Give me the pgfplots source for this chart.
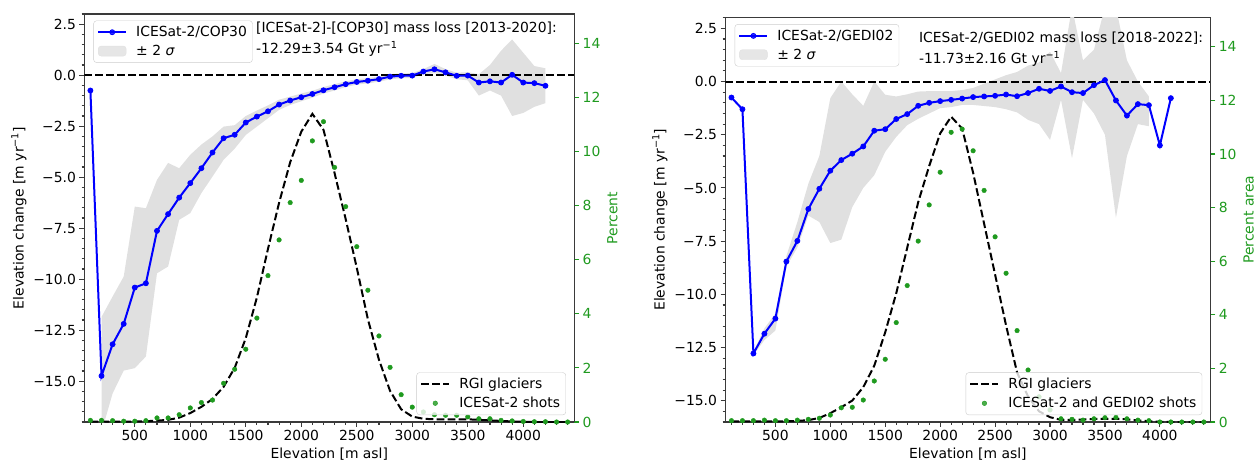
\documentclass[border=0pt]{standalone}
\usepackage{fontspec}
\setmainfont{DejaVu Sans}
\usepackage{pgfplots}
\usepackage{pgfplotstable}
\pgfplotsset{compat=1.18}
\usepgfplotslibrary{fillbetween}
\definecolor{mblue}{HTML}{0000FF}
\definecolor{mgreen}{HTML}{1F9A1F}
\definecolor{bandgray}{HTML}{E0E0E0}
\definecolor{spine}{HTML}{3A3A3A}
\newcommand{\mpl}{\fontsize{13.9}{16.7}\selectfont}

% elevation change, left panel (ICESat-2/COP30)
\pgfplotstableread{
x dh
100 -0.75
200 -14.74
300 -13.19
400 -12.19
500 -10.41
600 -10.20
700 -7.63
800 -6.81
900 -6.00
1000 -5.29
1100 -4.56
1200 -3.79
1300 -3.09
1400 -2.92
1500 -2.32
1600 -2.03
1700 -1.77
1800 -1.44
1900 -1.24
2000 -1.08
2100 -0.92
2200 -0.74
2300 -0.59
2400 -0.44
2500 -0.33
2600 -0.27
2700 -0.19
2800 -0.07
2900 -0.03
3000 -0.02
3100 0.18
3200 0.29
3300 0.14
3400 -0.03
3500 -0.02
3600 -0.36
3700 -0.30
3800 -0.36
3900 0.02
4000 -0.36
4100 -0.39
4200 -0.52
}\dhL
\pgfplotstableread{
x lo hi
200 -17.5 -11.85
300 -15.6 -10.85
400 -14.48 -9.87
500 -14.36 -6.44
600 -13.79 -6.52
700 -9.71 -5.13
800 -9.38 -4.30
900 -7.09 -4.56
1000 -6.76 -3.90
1100 -5.78 -3.40
1200 -4.97 -3.00
1300 -4.15 -2.52
1400 -3.60 -2.45
1500 -2.93 -2.00
1600 -2.52 -1.73
1700 -2.11 -1.48
1800 -1.70 -1.20
1900 -1.46 -1.05
2000 -1.28 -0.90
2100 -1.10 -0.76
2200 -0.90 -0.58
2300 -0.75 -0.44
2400 -0.58 -0.30
2500 -0.46 -0.20
2600 -0.40 -0.14
2700 -0.32 -0.07
2800 -0.20 0.05
2900 -0.15 0.09
3000 -0.14 0.10
3100 0.05 0.30
3200 0.10 0.55
3300 -0.02 0.30
3400 -0.20 0.12
3500 -0.25 0.15
3600 -1.00 0.05
3700 -0.75 0.50
3800 -1.00 1.20
3900 -2.00 1.75
4000 -1.85 1.10
4100 -1.55 0.45
4200 -1.37 0.34
}\bandL
\pgfplotstableread{
x rgi shots
100 0.01 0.06
200 0.01 0.06
300 0.01 0.05
400 0.01 0.03
500 0.02 0.03
600 0.03 0.05
700 0.05 0.15
800 0.08 0.15
900 0.16 0.27
1000 0.33 0.52
1100 0.56 0.72
1200 0.85 0.81
1300 1.30 1.43
1400 2.00 1.95
1500 3.10 2.69
1600 4.60 3.84
1700 6.40 5.41
1800 8.10 6.73
1900 9.60 8.11
2000 10.73 8.93
2100 11.39 10.39
2200 10.80 11.10
2300 9.20 9.41
2400 7.50 7.96
2500 5.70 6.48
2600 3.80 4.87
2700 2.30 3.18
2800 1.15 2.02
2900 0.47 1.01
3000 0.20 0.55
3100 0.12 0.37
3200 0.10 0.27
3300 0.10 0.25
3400 0.10 0.25
3500 0.10 0.19
3600 0.08 0.12
3700 0.06 0.12
3800 0.04 0.06
3900 0.02 0.04
4000 0.01 0.02
4100 0.00 0.01
4200 0.00 0.01
4300 0.00 0.00
4400 0.00 0.00
}\pctL

% elevation change, right panel (ICESat-2/GEDI02)
\pgfplotstableread{
x dh
100 -0.75
200 -1.30
300 -12.78
400 -11.85
500 -11.14
600 -8.46
700 -7.49
800 -5.99
900 -5.04
1000 -4.19
1100 -3.69
1200 -3.39
1300 -3.05
1400 -2.31
1500 -2.24
1600 -1.76
1700 -1.53
1800 -1.14
1900 -1.00
2000 -0.92
2100 -0.86
2200 -0.80
2300 -0.73
2400 -0.70
2500 -0.67
2600 -0.61
2700 -0.69
2800 -0.54
2900 -0.34
3000 -0.44
3100 -0.23
3200 -0.50
3300 -0.54
3400 -0.17
3500 0.07
3600 -0.89
3700 -1.60
3800 -1.06
3900 -1.11
4000 -3.00
4100 -0.78
}\dhR
\pgfplotstableread{
x lo hi
300 -12.85 -12.70
400 -12.15 -11.60
500 -11.70 -10.90
600 -8.70 -8.20
700 -7.80 -6.60
800 -6.30 -4.80
900 -6.60 -3.50
1000 -7.59 -0.78
1100 -7.43 0.00
1200 -5.90 -0.60
1300 -5.00 -1.14
1400 -4.40 0.00
1500 -3.30 -0.62
1600 -2.60 -0.70
1700 -2.05 -0.60
1800 -1.75 -0.47
1900 -1.50 -0.45
2000 -1.25 -0.45
2100 -1.20 -0.45
2200 -1.10 -0.40
2300 -1.10 -0.30
2400 -1.15 -0.10
2500 -1.20 0.10
2600 -1.30 0.30
2700 -1.45 0.45
2800 -1.80 0.75
2900 -2.00 0.90
3000 -2.74 1.40
3100 -0.86 0.40
3200 -3.60 3.50
3300 -0.86 1.00
3400 -1.50 1.50
3500 -2.50 3.50
3600 -6.40 3.50
3700 -3.50 1.00
3800 -2.00 0.00
3900 -2.10 -0.70
}\bandR
\pgfplotstableread{
x rgi shots
100 0.02 0.05
200 0.02 0.05
300 0.02 0.05
400 0.02 0.07
500 0.02 0.05
600 0.03 0.05
700 0.04 0.07
800 0.07 0.10
900 0.15 0.14
1000 0.33 0.26
1100 0.55 0.53
1200 0.80 0.55
1300 1.30 0.82
1400 2.10 1.53
1500 3.35 2.34
1600 4.80 3.71
1700 6.50 5.09
1800 8.20 6.75
1900 9.55 8.10
2000 10.77 9.32
2100 11.39 10.81
2200 10.95 10.93
2300 9.30 10.12
2400 7.40 8.64
2500 5.50 6.91
2600 3.60 5.55
2700 1.85 3.41
2800 0.95 1.94
2900 0.40 0.94
3000 0.18 0.45
3100 0.08 0.12
3200 0.08 0.10
3300 0.09 0.07
3400 0.11 0.12
3500 0.12 0.16
3600 0.12 0.17
3700 0.10 0.12
3800 0.06 0.07
3900 0.03 0.05
4000 0.01 0.00
4100 0.00 0.00
4200 0.00 0.00
4300 0.00 0.00
4400 0.00 0.00
}\pctR

\pgfplotsset{
  common/.style={
    scale only axis, anchor=south west,
    xmin=45, xmax=4460,
    font=\mpl, tick label style={font=\mpl, text=black}, label style={font=\mpl},
    tick align=outside, major tick length=4.9pt, minor tick length=2.8pt,
    every tick/.style={spine, line width=1.1pt},
    axis line style={spine, line width=1.1pt},
    legend cell align=left,
    legend style={font=\mpl, draw=black!20, fill=white, fill opacity=0.8, text opacity=1,
      rounded corners=3pt, inner sep=3.6pt, row sep=3pt, column sep=7pt,
      nodes={inner sep=2pt}},
    legend image code/.code={\draw[mark repeat=2,mark phase=2,#1] plot coordinates {(0pt,0pt) (14pt,0pt) (28pt,0pt)};},
  },
  dhaxis/.style={common,
    tick pos=left,
    xtick={500,1000,1500,2000,2500,3000,3500,4000},
    xticklabels={500,1000,1500,2000,2500,3000,3500,4000},
    minor xtick={100,200,...,4400},
    ytick={-15,-12.5,-10,-7.5,-5,-2.5,0,2.5},
    yticklabels={−15.0,−12.5,−10.0,−7.5,−5.0,−2.5,0.0,2.5},
    minor ytick={-17,-16.5,...,3},
    xlabel={Elevation [m asl]},
    ylabel={Elevation change [m yr\textsuperscript{−1}]},
  },
  pctaxis/.style={common,
    axis x line=none, axis y line*=right,
    ymin=0, ytick={0,2,...,14}, yticklabels={0,2,4,6,8,10,12,14},
    yticklabel style={text=mgreen}, ytick style={mgreen},
    ylabel style={text=mgreen},
  },
  dhline/.style={mblue, line width=2pt, mark=*, mark size=2.5pt, mark options={line width=0.8pt}},
  zeroline/.style={black, line width=2pt, dash pattern=on 7.7pt off 3.3pt, forget plot},
  rgiline/.style={black, line width=2pt, dash pattern=on 7.7pt off 3.3pt},
  shotmarks/.style={only marks, mark=*, mark size=2.3pt, mgreen,
    legend image code/.code={\draw[##1] plot coordinates {(14pt,0pt)};}},
}

\begin{document}
\begin{tikzpicture}

% ---------- left panel ----------
\begin{axis}[dhaxis, at={(84.3pt,42pt)}, width=490pt, height=408pt, ymin=-17, ymax=3.0,
  legend style={at={(0.0186,0.984)}, anchor=north west}]
\addplot[name path=lhi, draw=none, forget plot] table[x=x,y=hi]{\bandL};
\addplot[name path=llo, draw=none, forget plot] table[x=x,y=lo]{\bandL};
\addplot[bandgray, forget plot] fill between[of=lhi and llo];
\addplot[zeroline] coordinates {(45,0) (4460,0)};
\addplot[dhline] table[x=x,y=dh]{\dhL};
\addlegendentry{ICESat-2/COP30}
\addlegendimage{legend image code/.code={\fill[bandgray] (0pt,-5pt) rectangle (28pt,5pt);}}
\addlegendentry{± 2 \textit{σ}}
\node[anchor=north west, inner sep=0pt, align=left, font=\fontsize{13.9}{20.6}\selectfont]
  at (rel axis cs:0.3504,0.980) {[ICESat-2]-[COP30] mass loss [2013-2020]:\\-12.29±3.54 Gt yr\textsuperscript{−1}};
\end{axis}
\begin{axis}[pctaxis, at={(84.3pt,42pt)}, width=490pt, height=408pt, ymax=15.08,
  ylabel={Percent},
  legend style={at={(0.983,0.017)}, anchor=south east}]
\addplot[rgiline] table[x=x,y=rgi]{\pctL};
\addlegendentry{RGI glaciers}
\addplot[shotmarks] table[x=x,y=shots]{\pctL};
\addlegendentry{ICESat-2 shots}
\end{axis}

% ---------- right panel ----------
\begin{axis}[dhaxis, at={(725.4pt,42pt)}, width=485pt, height=404.7pt, ymin=-16, ymax=3.02,
  legend style={at={(0.019,0.983)}, anchor=north west}]
\addplot[name path=rhi, draw=none, forget plot] table[x=x,y=hi]{\bandR};
\addplot[name path=rlo, draw=none, forget plot] table[x=x,y=lo]{\bandR};
\addplot[bandgray, forget plot] fill between[of=rhi and rlo];
\addplot[zeroline] coordinates {(45,0) (4460,0)};
\addplot[dhline] table[x=x,y=dh]{\dhR};
\addlegendentry{ICESat-2/GEDI02}
\addlegendimage{legend image code/.code={\fill[bandgray] (0pt,-5pt) rectangle (28pt,5pt);}}
\addlegendentry{± 2 \textit{σ}}
\node[anchor=north west, inner sep=0pt, align=left, font=\fontsize{13.9}{20.6}\selectfont]
  at (rel axis cs:0.399,0.9634) {ICESat-2/GEDI02 mass loss [2018-2022]:\\-11.73±2.16 Gt yr\textsuperscript{−1}};
\end{axis}
\begin{axis}[pctaxis, at={(725.4pt,42pt)}, width=485pt, height=404.7pt, ymax=15.1,
  ylabel={Percent area},
  legend style={at={(0.983,0.017)}, anchor=south east}]
\addplot[rgiline] table[x=x,y=rgi]{\pctR};
\addlegendentry{RGI glaciers}
\addplot[shotmarks] table[x=x,y=shots]{\pctR};
\addlegendentry{ICESat-2 and GEDI02 shots}
\end{axis}

\pgfresetboundingbox
\useasboundingbox (0,0) rectangle (1256pt,464pt);
\end{tikzpicture}
\end{document}
